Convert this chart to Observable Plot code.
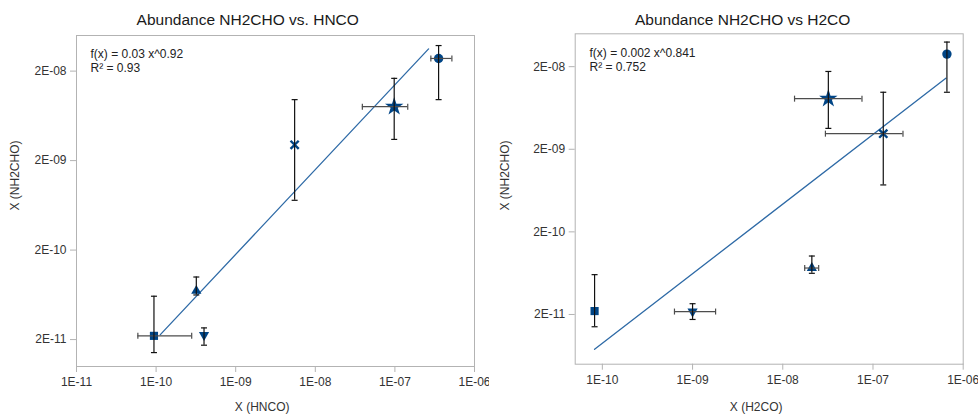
<!DOCTYPE html>
<html>
<head>
<meta charset="utf-8">
<script src="https://cdn.jsdelivr.net/npm/d3@7"></script>
<script src="https://cdn.jsdelivr.net/npm/@observablehq/plot@0.6"></script>
<style>
  html, body { margin: 0; padding: 0; background: #fff; }
  #wrap { position: relative; width: 978px; height: 414px; font-family: "Liberation Sans", Arial, sans-serif; }
  .title { position: absolute; top: 11px; width: 500px; text-align: center; font-size: 15.5px; color: #1a1a1a; white-space: nowrap; }
  .chart { position: absolute; top: 28px; }
  .chart svg { overflow: visible; }
  .chart svg [aria-label="x-axis tick label"], .chart svg [aria-label="y-axis tick label"] { fill: #333; }
</style>
</head>
<body>
<div id="wrap">
  <div class="title" id="t1"></div>
  <div class="title" id="t2"></div>
  <div class="chart" id="c1" style="left:0px"></div>
  <div class="chart" id="c2" style="left:489px"></div>
</div>
<script>
// ---------- data ----------
const shapes   = ["square", "triangle", "triangleDown", "times", "star", "circle"];

// Left: NH2CHO vs HNCO
const leftTitle = "Abundance NH2CHO vs. HNCO";
const leftX     = [9.4e-11, 3.2e-10, 4.0e-10, 5.5e-9, 9.8e-8, 3.54e-7];
const leftY     = [2.2e-11, 7.0e-11, 2.25e-11, 3.0e-9, 8.0e-9, 2.77e-8];
const leftXLo   = [5.9e-11, null, null, null, 3.9e-8, 2.83e-7];
const leftXHi   = [2.8e-10, null, null, null, 1.45e-7, 5.2e-7];
const leftYLo   = [1.43e-11, 6.3e-11, 1.73e-11, 7.2e-10, 3.45e-9, 9.6e-9];
const leftYHi   = [6.1e-11, 1.0e-10, 2.7e-11, 9.6e-9, 1.66e-8, 3.86e-8];
const leftTrendX = [1.13e-10, 2.65e-7];
const leftTrendY = [2.27e-11, 3.54e-8];
const leftFit   = ["f(x) = 0.03 x^0.92", "R² = 0.93"];
const leftXLabel = "X (HNCO)";
const leftXTicks = [1e-11, 1e-10, 1e-9, 1e-8, 1e-7, 1e-6];
const leftXTickLabels = ["1E-11", "1E-10", "1E-09", "1E-08", "1E-07", "1E-06"];
const leftYTicks = [2e-11, 2e-10, 2e-9, 2e-8];
const leftYTickLabels = ["2E-11", "2E-10", "2E-09", "2E-08"];
const leftXDomain = [1e-11, 1e-6];
const leftYDomain = [1e-11, 5e-8];

// Right: NH2CHO vs H2CO
const rightTitle = "Abundance NH2CHO vs H2CO";
const rightX    = [8.2e-11, 2.1e-8, 1.0e-9, 1.3e-7, 3.2e-8, 6.6e-7];
const rightY    = [2.2e-11, 7.3e-11, 2.17e-11, 3.09e-9, 8.2e-9, 2.84e-8];
const rightXLo  = [null, 1.75e-8, 6.3e-10, 2.97e-8, 1.35e-8, null];
const rightXHi  = [null, 2.5e-8, 1.8e-9, 2.15e-7, 7.55e-8, null];
const rightYLo  = [1.42e-11, 6.3e-11, 1.74e-11, 7.4e-10, 3.58e-9, 9.8e-9];
const rightYHi  = [6.07e-11, 1.02e-10, 2.7e-11, 9.8e-9, 1.75e-8, 3.97e-8];
const rightTrendX = [8.2e-11, 6.42e-7];
const rightTrendY = [7.57e-12, 1.45e-8];
const rightFit  = ["f(x) = 0.002 x^0.841", "R² = 0.752"];
const rightXLabel = "X (H2CO)";
const rightXTicks = [1e-10, 1e-9, 1e-8, 1e-7, 1e-6];
const rightXTickLabels = ["1E-10", "1E-09", "1E-08", "1E-07", "1E-06"];
const rightYTicks = [2e-11, 2e-10, 2e-9, 2e-8];
const rightYTickLabels = ["2E-11", "2E-10", "2E-09", "2E-08"];
const rightXDomain = [5e-11, 1e-6];
const rightYDomain = [5e-12, 5e-8];

const yLabel = "X (NH2CHO)";

// ---------- drawing ----------
const markerColor = "#004586";
const trendColor = "#2e6aa6";
const capH = {draw(ctx, size) { const w = Math.sqrt(size / Math.PI); ctx.moveTo(-w, 0); ctx.lineTo(w, 0); }};
const capV = {draw(ctx, size) { const w = Math.sqrt(size / Math.PI); ctx.moveTo(0, -w); ctx.lineTo(0, w); }};
const symbolOf = {square: "square", triangle: "triangle", triangleDown: "triangle", times: "times", star: "star", circle: "circle"};
const rOf = {square: 4.6, triangle: 3.8, triangleDown: 3.8, times: 3.8, star: 5.8, circle: 4.7};

function chart(o) {
  const pts = shapes.map((s, i) => ({
    shape: s, x: o.x[i], y: o.y[i], xlo: o.xlo[i], xhi: o.xhi[i], ylo: o.ylo[i], yhi: o.yhi[i]
  }));
  const filled = pts.filter(d => d.shape !== "times");
  const crosses = pts.filter(d => d.shape === "times");
  const xerr = pts.filter(d => d.xlo != null);
  const trend = o.trendX.map((x, i) => ({x, y: o.trendY[i]}));
  const fmtX = d => o.xTickLabels[o.xTicks.indexOf(d)];
  const fmtY = d => o.yTickLabels[o.yTicks.indexOf(d)];
  return Plot.plot({
    width: 489,
    height: 386,
    marginTop: o.mt, marginBottom: o.mb, marginLeft: o.ml, marginRight: o.mr,
    style: {fontFamily: "'Liberation Sans', Arial, sans-serif", fontSize: "12px", background: "white", overflow: "visible"},
    x: {type: "log", domain: o.xDomain},
    y: {type: "log", domain: o.yDomain},
    r: {type: "identity"},
    marks: [
      Plot.frame({stroke: "#b3b3b3"}),
      Plot.axisX({ticks: o.xTicks, tickFormat: fmtX, tickSize: 6, tickPadding: 5, stroke: "#b3b3b3", label: null}),
      Plot.axisY({ticks: o.yTicks, tickFormat: fmtY, tickSize: 6, tickPadding: 4, stroke: "#b3b3b3", label: null}),
      Plot.text([o.xLabel], {frameAnchor: "bottom", dy: o.xLabelDy, dx: o.xLabelDx, lineAnchor: "middle", fill: "#333", fontSize: 12, text: d => d}),
      Plot.text([yLabel], {frameAnchor: "left", dx: o.yLabelDx, dy: o.yLabelDy, rotate: -90, fill: "#333", fontSize: 12, text: d => d}),
      Plot.text([o.fit[0]], {frameAnchor: "top-left", dx: o.fitDx, dy: o.fitDy, lineAnchor: "middle", textAnchor: "start", fill: "#222", fontSize: 12, text: d => d}),
      Plot.text([o.fit[1]], {frameAnchor: "top-left", dx: o.fitDx, dy: o.fitDy + 14, lineAnchor: "middle", textAnchor: "start", fill: "#222", fontSize: 12, text: d => d}),
      Plot.line(trend, {x: "x", y: "y", stroke: trendColor, strokeWidth: 1.3}),
      Plot.dot(filled, {x: "x", y: "y", symbol: d => symbolOf[d.shape], r: d => rOf[d.shape], rotate: d => d.shape === "triangleDown" ? 180 : 0, fill: markerColor, stroke: "none"}),
      Plot.dot(crosses, {x: "x", y: "y", symbol: "times", r: d => rOf[d.shape], stroke: markerColor, strokeWidth: 2.4}),
      // horizontal error bars
      Plot.ruleY(xerr, {y: "y", x1: "xlo", x2: "xhi", stroke: "#4d4d4d", strokeWidth: 1.2}),
      Plot.dot(xerr, {x: "xlo", y: "y", symbol: capV, r: 3, stroke: "#4d4d4d", strokeWidth: 1.2}),
      Plot.dot(xerr, {x: "xhi", y: "y", symbol: capV, r: 3, stroke: "#4d4d4d", strokeWidth: 1.2}),
      // vertical error bars
      Plot.ruleX(pts, {x: "x", y1: "ylo", y2: "yhi", stroke: "#111", strokeWidth: 1.2}),
      Plot.dot(pts, {x: "x", y: "ylo", symbol: capH, r: 3, stroke: "#111", strokeWidth: 1.2}),
      Plot.dot(pts, {x: "x", y: "yhi", symbol: capH, r: 3, stroke: "#111", strokeWidth: 1.2})
    ]
  });
}

document.getElementById("t1").textContent = leftTitle;
document.getElementById("t1").style.left = (247.7 - 250) + "px";
document.getElementById("t2").textContent = rightTitle;
document.getElementById("t2").style.left = (742.7 - 250) + "px";

document.getElementById("c1").appendChild(chart({
  x: leftX, y: leftY, xlo: leftXLo, xhi: leftXHi, ylo: leftYLo, yhi: leftYHi,
  trendX: leftTrendX, trendY: leftTrendY, fit: leftFit, xLabel: leftXLabel,
  xTicks: leftXTicks, xTickLabels: leftXTickLabels, yTicks: leftYTicks, yTickLabels: leftYTickLabels,
  xDomain: leftXDomain, yDomain: leftYDomain,
  mt: 7, mb: 48, ml: 76, mr: 15,
  xLabelDx: -13.3, xLabelDy: 41, yLabelDx: -61, yLabelDy: 9.5, fitDx: 14, fitDy: 19
}));
document.getElementById("c2").appendChild(chart({
  x: rightX, y: rightY, xlo: rightXLo, xhi: rightXHi, ylo: rightYLo, yhi: rightYHi,
  trendX: rightTrendX, trendY: rightTrendY, fit: rightFit, xLabel: rightXLabel,
  xTicks: rightXTicks, xTickLabels: rightXTickLabels, yTicks: rightYTicks, yTickLabels: rightYTickLabels,
  xDomain: rightXDomain, yDomain: rightYDomain,
  mt: 5.3, mb: 50.3, ml: 85.7, mr: 15.3,
  xLabelDx: -13, xLabelDy: 42.5, yLabelDx: -69.7, yLabelDy: 11.5, fitDx: 14.3, fitDy: 19.4
}));
</script>
</body>
</html>
